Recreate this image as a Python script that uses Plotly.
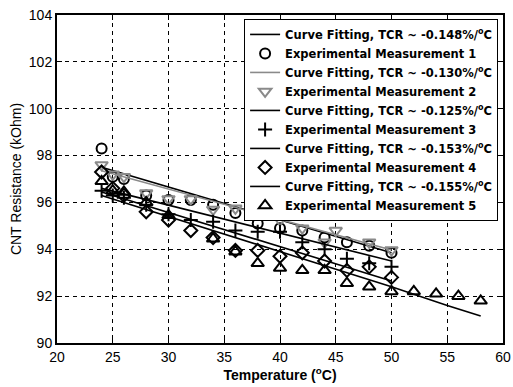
import plotly.graph_objects as go

# ---- data ----
x1 = [24, 25, 26, 28, 30, 32, 34, 36, 38, 40, 42, 44, 46, 48, 50]
m1 = [98.3, 97.1, 97.0, 96.3, 96.1, 96.1, 95.9, 95.55, 95.1, 94.9, 94.8, 94.5, 94.3, 94.15, 93.85]

x2 = [24, 25, 26, 28, 30, 32, 34, 36, 38, 40, 42, 44, 45, 48, 50]
m2 = [97.6, 97.2, 97.1, 96.4, 96.15, 96.15, 95.7, 95.75, 95.7, 95.25, 94.9, 94.3, 94.8, 94.3, 93.97]

x3 = [24, 25, 26, 28, 30, 32, 34, 36, 38, 40, 42, 44, 46, 48, 50]
m3 = [96.5, 96.3, 96.2, 95.9, 95.5, 95.25, 95.18, 94.8, 94.75, 94.75, 94.3, 94.0, 93.6, 93.4, 93.25]

x4 = [24, 25, 26, 28, 30, 32, 34, 36, 38, 40, 42, 44, 46, 48, 50]
m4 = [97.3, 96.6, 96.3, 95.6, 95.25, 94.8, 94.5, 93.95, 93.95, 93.7, 93.85, 93.5, 93.1, 93.25, 92.8]

x5 = [24, 25, 26, 28, 30, 34, 36, 38, 40, 42, 44, 46, 48, 50, 52, 54, 56, 58]
m5 = [96.9, 96.5, 96.45, 96.0, 95.45, 94.45, 93.9, 93.4, 93.2, 93.1, 93.1, 92.55, 92.4, 92.2, 92.2, 92.1, 92.0, 91.8]

# fitted lines (end points)
fx1 = [24, 50]; f1 = [97.5, 93.85]
fx2 = [24, 50]; f2 = [97.35, 93.97]
fx3 = [24, 50]; f3 = [96.6, 93.5]
fx4 = [24, 50]; f4 = [96.45, 92.65]
fx5 = [24, 50, 55, 58]; f5 = [96.3, 92.4, 91.6, 91.15]

tcr = ["-0.148", "-0.130", "-0.125", "-0.153", "-0.155"]

BLACK = "#000000"
GRAY = "#8a8a8a"

series = [
    (fx1, f1, x1, m1, BLACK, "circle-open", 10),
    (fx2, f2, x2, m2, GRAY, "triangle-down-open", 11),
    (fx3, f3, x3, m3, BLACK, "cross-thin-open", 10),
    (fx4, f4, x4, m4, BLACK, "diamond-open", 10),
    (fx5, f5, x5, m5, BLACK, "triangle-up-open", 11),
]

fig = go.Figure()
for i, (fx, fy, mx, my, col, sym, sz) in enumerate(series):
    fig.add_trace(go.Scatter(
        x=fx, y=fy, mode="lines",
        line=dict(color=col, width=1.6),
        name=f"<b>Curve Fitting, TCR ~ {tcr[i]}%/<sup>o</sup>C</b>",
    ))
    fig.add_trace(go.Scatter(
        x=mx, y=my, mode="markers",
        marker=dict(symbol=sym, size=sz, color=col, line=dict(color=col, width=2)),
        name=f"<b>Experimental Measurement {i+1}</b>",
    ))

axis_common = dict(
    showline=True, linecolor="black", linewidth=2, mirror="ticks",
    ticks="inside", ticklen=5, tickcolor="black", tickwidth=1,
    showgrid=True, gridcolor="black", griddash="4px,4px", gridwidth=1,
    zeroline=False, automargin=False,
    tickfont=dict(family="Liberation Sans, Arial", size=14, color="black"),
)

fig.update_layout(
    width=513, height=387,
    margin=dict(l=57, r=10, t=15, b=44),
    paper_bgcolor="white", plot_bgcolor="white",
    font=dict(family="Liberation Sans, Arial", color="black"),
    xaxis=dict(range=[20, 60], dtick=5, **axis_common,
               title=dict(text="<b>Temperature (<sup>o</sup>C)</b>",
                          font=dict(size=14), standoff=2)),
    yaxis=dict(range=[90, 104], dtick=2, **axis_common,
               title=dict(text="CNT Resistance (kOhm)",
                          font=dict(size=14), standoff=4)),
    legend=dict(
        x=0.989, y=0.988, xanchor="right", yanchor="top",
        bgcolor="white", bordercolor="black", borderwidth=1,
        font=dict(family="DejaVu Sans", size=11.5, color="black"),
        tracegroupgap=0, itemwidth=30,
    ),
    showlegend=True,
)

fig.write_html("out.html", config={"displayModeBar": False},
               post_script="document.body.style.margin='0';")
